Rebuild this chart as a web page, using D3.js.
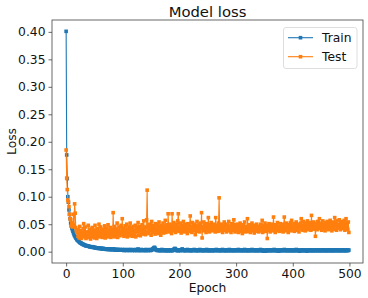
<!DOCTYPE html>
<html>
<head>
<meta charset="utf-8">
<script src="https://cdn.jsdelivr.net/npm/d3@7"></script>
<style>
  body { margin: 0; background: #fff; }
  text { font-family: "DejaVu Sans", sans-serif; }
</style>
</head>
<body>
<div id="chart"></div>
<script>
// loss per epoch
const trainLoss = [
  0.401,0.176,0.133,0.100,0.090,0.076,0.068,0.060,0.052,0.047,0.043,0.040,0.037,0.034,0.031,0.029,0.027,0.025,0.024,0.022,
  0.021,0.020,0.019,0.018,0.017,0.016,0.016,0.015,0.014,0.014,0.013,0.013,0.012,0.012,0.011,0.011,0.011,0.010,0.010,0.010,
  0.010,0.009,0.009,0.009,0.009,0.008,0.009,0.008,0.008,0.008,0.007,0.008,0.007,0.007,0.007,0.007,0.006,0.007,0.006,0.006,
  0.006,0.006,0.006,0.005,0.006,0.005,0.006,0.005,0.005,0.005,0.005,0.004,0.005,0.005,0.004,0.005,0.004,0.004,0.005,0.004,
  0.004,0.004,0.004,0.004,0.005,0.004,0.003,0.004,0.004,0.003,0.004,0.003,0.004,0.003,0.003,0.004,0.003,0.003,0.003,0.004,
  0.003,0.003,0.002,0.003,0.004,0.003,0.003,0.002,0.003,0.003,0.004,0.003,0.002,0.003,0.003,0.004,0.003,0.002,0.003,0.003,
  0.003,0.002,0.004,0.003,0.003,0.002,0.003,0.005,0.003,0.002,0.003,0.003,0.002,0.004,0.003,0.003,0.002,0.003,0.003,0.002,
  0.003,0.004,0.002,0.003,0.003,0.002,0.003,0.003,0.004,0.002,0.003,0.003,0.004,0.005,0.006,0.007,0.008,0.006,0.004,0.003,
  0.003,0.002,0.003,0.003,0.002,0.003,0.002,0.002,0.003,0.004,0.002,0.003,0.002,0.003,0.002,0.003,0.002,0.002,0.003,0.002,
  0.002,0.003,0.002,0.003,0.002,0.002,0.003,0.002,0.002,0.003,0.004,0.005,0.006,0.005,0.003,0.002,0.003,0.002,0.002,0.003,
  0.003,0.002,0.002,0.003,0.004,0.005,0.003,0.002,0.003,0.002,0.002,0.003,0.002,0.003,0.004,0.003,0.002,0.002,0.003,0.002,
  0.003,0.002,0.002,0.003,0.002,0.003,0.004,0.003,0.002,0.002,0.003,0.002,0.003,0.002,0.002,0.003,0.004,0.003,0.002,0.002,
  0.003,0.002,0.003,0.002,0.002,0.003,0.002,0.003,0.004,0.002,0.002,0.003,0.002,0.002,0.003,0.002,0.003,0.002,0.002,0.003,
  0.002,0.003,0.002,0.002,0.003,0.004,0.003,0.002,0.002,0.003,0.002,0.003,0.002,0.002,0.003,0.002,0.004,0.003,0.002,0.002,
  0.003,0.002,0.002,0.003,0.002,0.003,0.002,0.002,0.004,0.003,0.002,0.002,0.003,0.002,0.003,0.002,0.002,0.003,0.002,0.003,
  0.002,0.003,0.002,0.002,0.004,0.003,0.002,0.003,0.002,0.002,0.003,0.002,0.003,0.002,0.002,0.004,0.003,0.002,0.002,0.003,
  0.002,0.002,0.003,0.002,0.003,0.002,0.002,0.003,0.004,0.002,0.003,0.002,0.002,0.003,0.002,0.003,0.002,0.002,0.003,0.002,
  0.003,0.002,0.002,0.004,0.003,0.002,0.003,0.002,0.001,0.002,0.003,0.002,0.001,0.002,0.003,0.002,0.003,0.002,0.002,0.003,
  0.002,0.003,0.002,0.002,0.003,0.002,0.003,0.004,0.002,0.002,0.003,0.002,0.002,0.003,0.002,0.001,0.002,0.003,0.002,0.003,
  0.002,0.002,0.003,0.002,0.003,0.004,0.002,0.002,0.003,0.002,0.002,0.003,0.002,0.003,0.002,0.002,0.003,0.002,0.003,0.002,
  0.002,0.003,0.002,0.002,0.003,0.002,0.004,0.002,0.003,0.002,0.002,0.003,0.001,0.002,0.002,0.003,0.002,0.003,0.002,0.002,
  0.003,0.002,0.002,0.003,0.002,0.001,0.002,0.003,0.002,0.003,0.002,0.002,0.003,0.002,0.002,0.003,0.002,0.002,0.003,0.002,
  0.002,0.003,0.002,0.003,0.002,0.002,0.003,0.002,0.002,0.003,0.002,0.002,0.003,0.002,0.003,0.002,0.002,0.003,0.002,0.002,
  0.003,0.002,0.002,0.003,0.002,0.003,0.002,0.002,0.003,0.002,0.002,0.003,0.002,0.002,0.003,0.002,0.003,0.002,0.002,0.003,
  0.002,0.003,0.002,0.002,0.003,0.002,0.002,0.003,0.002,0.003,0.002,0.002,0.003,0.002,0.002,0.003,0.002,0.003,0.002,0.003
];

const testLoss = [
  0.185,0.134,0.113,0.094,0.091,0.082,0.068,0.060,0.058,0.047,0.052,0.045,0.050,0.068,0.048,0.087,0.070,0.044,0.038,0.035,
  0.040,0.028,0.033,0.025,0.046,0.030,0.038,0.024,0.035,0.029,0.042,0.051,0.027,0.033,0.045,0.024,0.036,0.030,0.028,0.048,
  0.026,0.034,0.041,0.023,0.037,0.030,0.044,0.027,0.032,0.039,0.025,0.048,0.031,0.036,0.024,0.042,0.029,0.035,0.050,0.027,
  0.033,0.045,0.028,0.038,0.026,0.041,0.034,0.030,0.047,0.025,0.036,0.043,0.029,0.032,0.049,0.027,0.038,0.031,0.044,0.026,
  0.035,0.040,0.028,0.071,0.032,0.046,0.027,0.037,0.041,0.030,0.052,0.026,0.039,0.034,0.045,0.029,0.036,0.048,0.031,0.060,
  0.033,0.042,0.028,0.038,0.047,0.030,0.036,0.050,0.027,0.040,0.034,0.045,0.029,0.052,0.032,0.037,0.043,0.028,0.046,0.035,
  0.039,0.031,0.048,0.027,0.044,0.036,0.041,0.053,0.030,0.038,0.046,0.029,0.042,0.035,0.049,0.032,0.040,0.056,0.037,0.045,
  0.031,0.043,0.058,0.112,0.036,0.047,0.033,0.050,0.039,0.044,0.030,0.055,0.041,0.035,0.048,0.038,0.046,0.032,0.051,0.040,
  0.036,0.049,0.042,0.033,0.054,0.039,0.045,0.030,0.048,0.041,0.037,0.052,0.034,0.046,0.040,0.057,0.035,0.044,0.049,0.038,
  0.069,0.042,0.036,0.050,0.039,0.047,0.033,0.069,0.044,0.038,0.053,0.041,0.046,0.035,0.050,0.043,0.039,0.056,0.069,0.037,
  0.045,0.040,0.052,0.034,0.048,0.043,0.038,0.055,0.041,0.036,0.050,0.044,0.039,0.047,0.033,0.051,0.042,0.037,0.049,0.065,
  0.040,0.046,0.035,0.053,0.042,0.038,0.050,0.044,0.031,0.047,0.041,0.055,0.037,0.045,0.040,0.049,0.036,0.052,0.043,0.071,
  0.025,0.046,0.040,0.054,0.038,0.048,0.043,0.035,0.051,0.042,0.039,0.062,0.045,0.036,0.049,0.041,0.053,0.038,0.044,0.047,
  0.039,0.050,0.043,0.036,0.062,0.044,0.040,0.048,0.037,0.052,0.098,0.041,0.046,0.038,0.050,0.043,0.035,0.047,0.041,0.054,
  0.039,0.045,0.050,0.036,0.043,0.048,0.040,0.055,0.038,0.046,0.042,0.035,0.051,0.044,0.039,0.047,0.058,0.041,0.036,0.049,
  0.043,0.038,0.050,0.044,0.035,0.047,0.041,0.052,0.037,0.045,0.040,0.033,0.049,0.043,0.038,0.054,0.042,0.036,0.046,0.040,
  0.060,0.044,0.037,0.049,0.041,0.035,0.047,0.043,0.052,0.038,0.045,0.040,0.034,0.048,0.042,0.037,0.050,0.044,0.039,0.046,
  0.036,0.045,0.041,0.050,0.038,0.043,0.057,0.035,0.047,0.040,0.044,0.052,0.037,0.042,0.048,0.024,0.045,0.039,0.051,0.041,
  0.036,0.046,0.043,0.050,0.038,0.044,0.063,0.040,0.047,0.035,0.049,0.042,0.038,0.053,0.044,0.040,0.046,0.037,0.051,0.043,
  0.039,0.048,0.042,0.036,0.050,0.063,0.041,0.045,0.038,0.052,0.043,0.047,0.035,0.049,0.041,0.044,0.053,0.038,0.057,0.042,
  0.046,0.040,0.051,0.037,0.048,0.043,0.054,0.039,0.046,0.042,0.050,0.036,0.047,0.044,0.052,0.060,0.041,0.048,0.039,0.055,
  0.043,0.049,0.038,0.052,0.045,0.041,0.056,0.040,0.047,0.053,0.042,0.048,0.039,0.066,0.044,0.050,0.041,0.054,0.046,0.043,
  0.028,0.051,0.045,0.040,0.055,0.043,0.049,0.060,0.042,0.048,0.052,0.039,0.046,0.056,0.041,0.050,0.044,0.038,0.053,0.047,
  0.042,0.055,0.048,0.040,0.051,0.046,0.057,0.043,0.049,0.038,0.054,0.045,0.050,0.041,0.062,0.047,0.052,0.039,0.056,0.044,
  0.049,0.043,0.058,0.046,0.040,0.053,0.047,0.055,0.042,0.050,0.044,0.057,0.039,0.052,0.060,0.045,0.049,0.041,0.054,0.035
];

const seriesNames = ["Train", "Test"];
const seriesColors = ["#1f77b4", "#ff7f0e"];
const xTicks = [0, 100, 200, 300, 400, 500];
const yTicks = [0, 0.05, 0.10, 0.15, 0.20, 0.25, 0.30, 0.35, 0.40];

const W = 368, H = 298;
const plot = { left: 52, right: 363, top: 20, bottom: 263 };

const svg = d3.select("#chart").append("svg")
    .attr("width", W)
    .attr("height", H);

const x = d3.scaleLinear().domain([-24.95, 523.95]).range([plot.left, plot.right]);
const y = d3.scaleLinear().domain([-0.0206, 0.4216]).range([plot.bottom, plot.top]);

const series = [trainLoss, testLoss].map((vals, i) => ({
    name: seriesNames[i],
    color: seriesColors[i],
    values: vals.map((v, e) => ({ epoch: e, loss: v }))
}));

// lines + square markers, test drawn on top
const line = d3.line().x(d => x(d.epoch)).y(d => y(d.loss));
const ms = 3.6;

series.forEach(s => {
    const g = svg.append("g");
    g.append("path")
        .datum(s.values)
        .attr("fill", "none")
        .attr("stroke", s.color)
        .attr("stroke-width", 1.1)
        .attr("d", line);
    g.selectAll("rect")
        .data(s.values)
        .enter()
        .append("rect")
        .attr("x", d => x(d.epoch) - ms / 2)
        .attr("y", d => y(d.loss) - ms / 2)
        .attr("width", ms)
        .attr("height", ms)
        .attr("fill", s.color);
});

// frame
svg.append("rect")
    .attr("x", plot.left)
    .attr("y", plot.top)
    .attr("width", plot.right - plot.left)
    .attr("height", plot.bottom - plot.top)
    .attr("fill", "none")
    .attr("stroke", "#444")
    .attr("stroke-width", 0.8);

// axes
const xAxis = svg.append("g")
    .attr("transform", `translate(0,${plot.bottom})`)
    .call(d3.axisBottom(x).tickValues(xTicks).tickSize(3.5).tickPadding(3).tickSizeOuter(0));
const yAxis = svg.append("g")
    .attr("transform", `translate(${plot.left},0)`)
    .call(d3.axisLeft(y).tickValues(yTicks).tickFormat(d3.format(".2f")).tickSize(3.5).tickPadding(3).tickSizeOuter(0));

[xAxis, yAxis].forEach(a => {
    a.select(".domain").remove();
    a.selectAll(".tick line").attr("stroke", "#444").attr("stroke-width", 0.8);
    a.selectAll(".tick text")
        .attr("fill", "#111")
        .style("font-family", "DejaVu Sans")
        .style("font-size", "12.3px");
});

// title and labels
svg.append("text")
    .attr("x", (plot.left + plot.right) / 2)
    .attr("y", 17)
    .attr("text-anchor", "middle")
    .attr("fill", "#111")
    .style("font-size", "14.8px")
    .text("Model loss");

svg.append("text")
    .attr("x", (plot.left + plot.right) / 2)
    .attr("y", 292)
    .attr("text-anchor", "middle")
    .attr("fill", "#111")
    .style("font-size", "12.3px")
    .text("Epoch");

svg.append("text")
    .attr("transform", `translate(16,${(plot.top + plot.bottom) / 2}) rotate(-90)`)
    .attr("text-anchor", "middle")
    .attr("fill", "#111")
    .style("font-size", "12.3px")
    .text("Loss");

// legend
const legend = svg.append("g");
legend.append("rect")
    .attr("x", 283.5)
    .attr("y", 27.5)
    .attr("width", 73.5)
    .attr("height", 41)
    .attr("rx", 2.5)
    .attr("fill", "#fff")
    .attr("fill-opacity", 0.8)
    .attr("stroke", "#d6d6d6")
    .attr("stroke-width", 0.8);

series.forEach((s, i) => {
    const ly = 37.7 + i * 19;
    legend.append("line")
        .attr("x1", 288).attr("x2", 313)
        .attr("y1", ly).attr("y2", ly)
        .attr("stroke", s.color)
        .attr("stroke-width", 1.1);
    legend.append("rect")
        .attr("x", 300.5 - ms / 2).attr("y", ly - ms / 2)
        .attr("width", ms).attr("height", ms)
        .attr("fill", s.color);
    legend.append("text")
        .attr("x", 322)
        .attr("y", ly + 4.3)
        .attr("fill", "#111")
        .style("font-size", "12.3px")
        .text(s.name);
});
</script>
</body>
</html>
